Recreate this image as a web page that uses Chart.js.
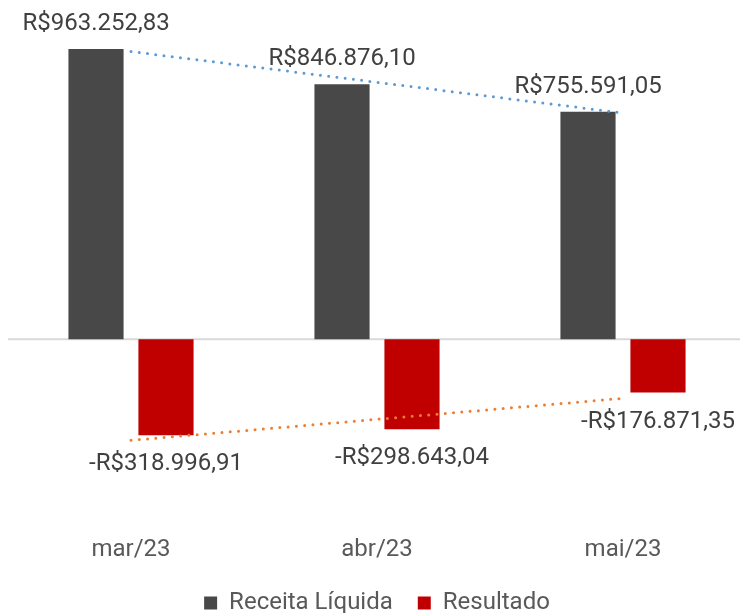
<!DOCTYPE html>
<html>
<head>
<meta charset="utf-8">
<script src="https://cdn.jsdelivr.net/npm/chart.js@4"></script>
<style>
  html, body { margin: 0; padding: 0; background: #fff; overflow: hidden; }
  #wrap { width: 746px; height: 625px; }
</style>
</head>
<body>
<div id="wrap"><canvas id="chart-resultado" width="746" height="625"></canvas></div>
<script>
const categories = ['mar/23', 'abr/23', 'mai/23'];
const receita = [963252.83, 846876.10, 755591.05];
const resultado = [-318996.91, -298643.04, -176871.35];
// trend lines
const receitaTrend = [955000, 853000, 751000];
const resultadoTrend = [-335500, -265700, -196000];

function formatBRL(v) {
    const neg = v < 0;
    const parts = Math.abs(v).toFixed(2).split('.');
    const int = parts[0].replace(/\B(?=(\d{3})+(?!\d))/g, '.');
    return (neg ? '-' : '') + 'R$' + int + ',' + parts[1];
}

const zeroLine = {
    id: 'zeroLine',
    beforeDatasetsDraw(chart) {
        const {ctx, chartArea, scales} = chart;
        const y = scales.y.getPixelForValue(0);
        ctx.save();
        ctx.strokeStyle = '#D9D9D9';
        ctx.lineWidth = 2;
        ctx.beginPath();
        ctx.moveTo(chartArea.left, y);
        ctx.lineTo(chartArea.right, y);
        ctx.stroke();
        ctx.restore();
    }
};

const barLabels = {
    id: 'barLabels',
    afterDatasetsDraw(chart) {
        const ctx = chart.ctx;
        ctx.save();
        ctx.font = '24px Roboto';
        ctx.fillStyle = '#404040';
        ctx.textAlign = 'center';
        [0, 1].forEach(function (di) {
            const meta = chart.getDatasetMeta(di);
            const values = chart.data.datasets[di].data;
            meta.data.forEach(function (bar, i) {
                const v = values[i];
                if (v >= 0) {
                    ctx.textBaseline = 'alphabetic';
                    ctx.fillText(formatBRL(v), bar.x, bar.y - 19);
                } else {
                    ctx.textBaseline = 'top';
                    ctx.fillText(formatBRL(v), bar.x, bar.y + 17);
                }
            });
        });
        ctx.restore();
    }
};

new Chart(document.getElementById('chart-resultado').getContext('2d'), {
    type: 'bar',
    data: {
        labels: categories,
        datasets: [
            {
                label: 'Receita Líquida',
                data: receita,
                backgroundColor: '#484848',
                categoryPercentage: 0.569,
                barPercentage: 0.788,
                order: 2
            },
            {
                label: 'Resultado',
                data: resultado,
                backgroundColor: '#C00000',
                categoryPercentage: 0.569,
                barPercentage: 0.788,
                order: 2
            },
            {
                type: 'line',
                label: 'trend receita',
                data: receitaTrend,
                borderColor: '#5B9BD5',
                borderWidth: 3,
                borderDash: [0, 8.3],
                borderCapStyle: 'round',
                pointRadius: 0,
                fill: false,
                order: 0
            },
            {
                type: 'line',
                label: 'trend resultado',
                data: resultadoTrend,
                borderColor: '#ED7D31',
                borderWidth: 3,
                borderDash: [0, 8.3],
                borderCapStyle: 'round',
                pointRadius: 0,
                fill: false,
                order: 0
            }
        ]
    },
    options: {
        responsive: false,
        animation: false,
        layout: {
            padding: { left: 8, right: 0, top: 38, bottom: 0 }
        },
        scales: {
            x: {
                grid: { display: false, drawTicks: false },
                border: { display: false },
                ticks: {
                    padding: 16,
                    color: '#595959',
                    font: { family: 'Roboto', size: 24 }
                },
                // drop the padding chart.js adds under the labels
                afterFit: function (scale) { scale.height = 46; }
            },
            y: {
                display: false,
                min: -600000,
                max: 1000000
            }
        },
        plugins: {
            tooltip: { enabled: false },
            legend: {
                position: 'bottom',
                labels: {
                    filter: function (item) { return item.datasetIndex < 2; },
                    boxWidth: 13,
                    boxHeight: 13,
                    padding: 25,
                    color: '#595959',
                    font: { family: 'Roboto', size: 24 }
                }
            }
        }
    },
    plugins: [zeroLine, barLabels]
});
</script>
</body>
</html>
